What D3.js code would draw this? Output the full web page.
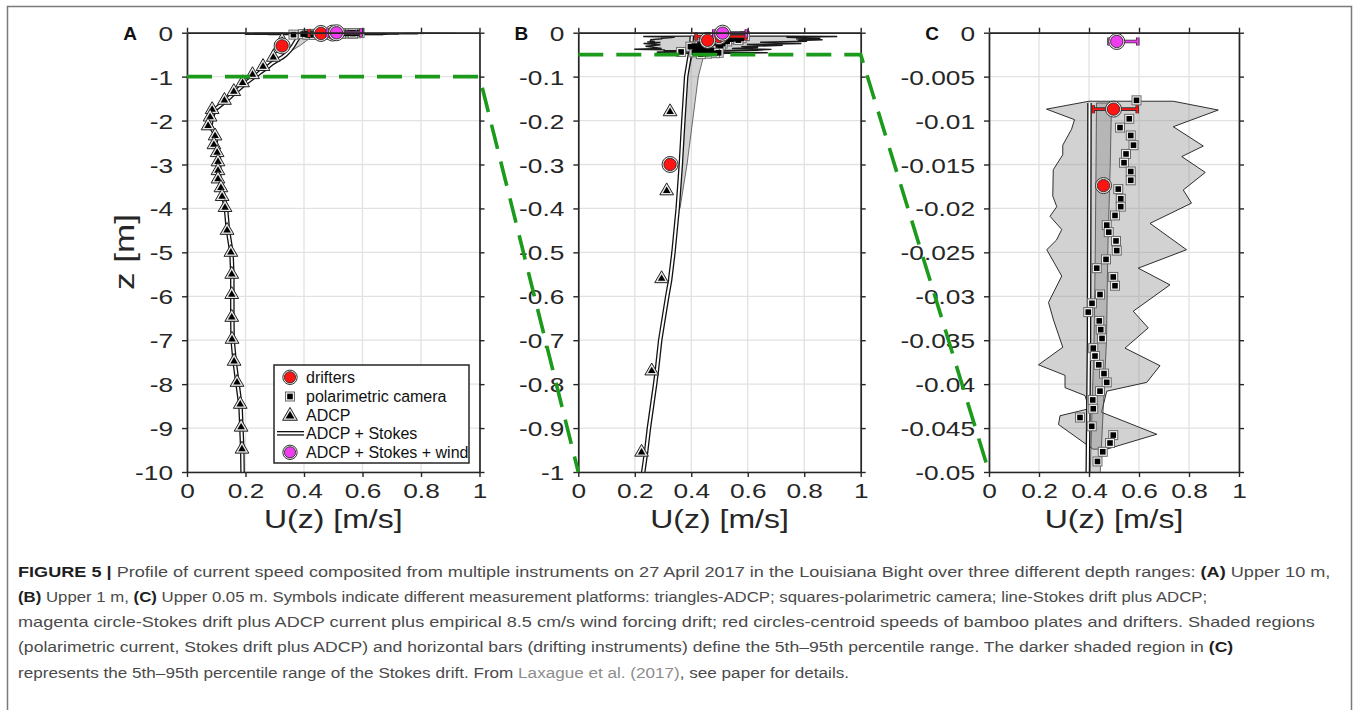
<!DOCTYPE html>
<html>
<head>
<meta charset="utf-8">
<script src="https://cdn.jsdelivr.net/npm/d3@7"></script>
<style>
  body { margin: 0; background: #fff; }
  svg { display: block; font-family: "Liberation Sans", Arial, sans-serif; }
</style>
</head>
<body>
<div id="chart"></div>
<script>
// ---- data ----
var xTicks  = [0, 0.2, 0.4, 0.6, 0.8, 1];
var zTicksA = [0, -1, -2, -3, -4, -5, -6, -7, -8, -9, -10];
var zTicksB = [0, -0.1, -0.2, -0.3, -0.4, -0.5, -0.6, -0.7, -0.8, -0.9, -1];
var zTicksC = [0, -0.005, -0.01, -0.015, -0.02, -0.025, -0.03, -0.035, -0.04, -0.045, -0.05];

// ADCP (triangles)
var adcpZ = [-0.18, -0.36, -0.56, -0.77, -0.955, -1.14, -1.34, -1.54, -1.75, -1.92, -2.12, -2.35, -2.55, -2.73,
             -2.94, -3.14, -3.33, -3.53, -3.73, -3.98, -4.5, -5.0, -5.5, -5.96, -6.48, -6.98, -7.48, -7.96, -8.46, -8.98, -9.48];
var adcpU = [0.325, 0.313, 0.295, 0.26, 0.224, 0.19, 0.16, 0.128, 0.086, 0.079, 0.072, 0.096, 0.092, 0.103,
             0.106, 0.106, 0.106, 0.116, 0.12, 0.13, 0.137, 0.15, 0.153, 0.153, 0.153, 0.154, 0.161, 0.171, 0.182, 0.185, 0.188];

// ADCP + Stokes (double line)
var stokesZ = [-0.008, -0.02, -0.035, -0.05, -0.1, -0.2, -0.3, -0.4, -0.5, -0.564, -0.6, -0.7, -0.77, -0.8, -0.9, -0.955, -1.0,
               -1.15, -1.34, -1.54, -1.75, -1.92, -2.12, -2.35, -2.55, -2.73, -2.94, -3.33, -3.53, -3.73, -3.98,
               -4.5, -5.0, -5.5, -6.0, -6.5, -7.0, -7.5, -8.0, -8.5, -9.0, -9.5, -10];
var stokesU = [0.402, 0.401, 0.4, 0.395, 0.382, 0.372, 0.363, 0.352, 0.337, 0.325, 0.315, 0.29, 0.278, 0.272, 0.25, 0.24, 0.23,
               0.2, 0.167, 0.135, 0.095, 0.085, 0.08, 0.1, 0.097, 0.107, 0.11, 0.11, 0.12, 0.124, 0.133,
               0.14, 0.152, 0.155, 0.155, 0.155, 0.156, 0.163, 0.173, 0.183, 0.186, 0.189, 0.19];

// Stokes drift 5th-95th percentile band
var bandZ  = [-0.008, -0.015, -0.025, -0.035, -0.05, -0.1, -0.2, -0.3, -0.4];
var bandLo = [0.43, 0.428, 0.425, 0.42, 0.405, 0.385, 0.372, 0.362, 0.35];
var bandHi = [0.49, 0.485, 0.475, 0.47, 0.445, 0.425, 0.405, 0.385, 0.36];

// polarimetric camera (squares)
var polZ = [-0.0077, -0.0098, -0.0108, -0.0117, -0.0128, -0.0138, -0.0148, -0.0158, -0.0168, -0.0178, -0.0189, -0.0198,
            -0.0208, -0.0219, -0.0227, -0.0237, -0.0248, -0.0258, -0.0268, -0.0278, -0.0288, -0.0298, -0.0308, -0.0318,
            -0.0328, -0.0338, -0.0348, -0.0359, -0.0368, -0.0378, -0.0388, -0.0398, -0.0408, -0.0418, -0.0428, -0.0438,
            -0.0448, -0.0458, -0.0467, -0.0477, -0.0488];
var polU = [0.59, 0.561, 0.524, 0.567, 0.578, 0.548, 0.54, 0.567, 0.567, 0.517, 0.527, 0.527,
            0.504, 0.471, 0.479, 0.508, 0.511, 0.468, 0.431, 0.497, 0.504, 0.444, 0.412, 0.397,
            0.441, 0.447, 0.452, 0.417, 0.424, 0.439, 0.46, 0.471, 0.444, 0.415, 0.417, 0.364,
            0.411, 0.497, 0.484, 0.455, 0.434];

// polarimetric 5th-95th percentile outline
var polLeftZ  = [-0.0078, -0.0087, -0.0099, -0.011, -0.0128, -0.0139, -0.0156, -0.0186, -0.0198, -0.0209, -0.0224, -0.0236,
                 -0.0247, -0.0277, -0.0307, -0.0327, -0.0358, -0.0378, -0.039, -0.0404, -0.0413, -0.0428, -0.0436, -0.0446, -0.0474];
var polLeftU  = [0.40, 0.23, 0.342, 0.33, 0.295, 0.295, 0.257, 0.255, 0.271, 0.244, 0.291, 0.27,
                 0.231, 0.291, 0.238, 0.258, 0.295, 0.198, 0.304, 0.304, 0.384, 0.40, 0.284, 0.278, 0.416];
var polRightZ = [-0.0078, -0.0088, -0.0107, -0.0129, -0.0141, -0.0159, -0.0179, -0.0194, -0.0217, -0.0247, -0.0268,
                 -0.0287, -0.0317, -0.0336, -0.0359, -0.0379, -0.0398, -0.0408, -0.0432, -0.0457, -0.0474];
var polRightU = [0.737, 0.917, 0.737, 0.857, 0.771, 0.865, 0.777, 0.81, 0.644, 0.79, 0.597,
                 0.724, 0.577, 0.637, 0.544, 0.684, 0.631, 0.471, 0.45, 0.671, 0.471];

// drifters (red circles) with 5th-95th bars
var drifterZ  = [-0.0087, -0.0174, -0.3];
var drifterU  = [0.498, 0.458, 0.325];
var drifterLo = [0.417, 0.45, 0.305];
var drifterHi = [0.593, 0.466, 0.335];

// ADCP + Stokes + wind (magenta)
var windZ  = [-0.001];
var windU  = [0.511];
var windLo = [0.48];
var windHi = [0.595];

// ---- chart ----
var W = 1360, H = 710;
var plotTop = 32.7, plotBottom = 472;
var axisColor = '#262626';
var stretch = 1.25;

var panels = [
  {key: 'A', left: 187,   right: 479.5, zmin: -10,   zTicks: zTicksA},
  {key: 'B', left: 578.3, right: 860.7, zmin: -1,    zTicks: zTicksB},
  {key: 'C', left: 989,   right: 1239,  zmin: -0.05, zTicks: zTicksC}
];

var svg = d3.select('#chart').append('svg')
    .attr('width', W)
    .attr('height', H);

// frame around figure
svg.append('rect')
    .attr('x', 7.5).attr('y', 6.5)
    .attr('width', 1344).attr('height', 760)
    .attr('fill', 'none')
    .attr('stroke', '#7a7a7a')
    .attr('stroke-width', 1.5);

function fmtTick(v) {
    return v === 0 ? '0' : String(+v.toFixed(4));
}

function zipPts(zs, us) {
    return zs.map(function(z, i) { return {z: z, u: us[i]}; });
}

var adcp = zipPts(adcpZ, adcpU);
var stokes = zipPts(stokesZ, stokesU);
var band = bandZ.map(function(z, i) { return {z: z, lo: bandLo[i], hi: bandHi[i]}; });
var pol = zipPts(polZ, polU);
var polOutline = zipPts(polLeftZ, polLeftU).concat(zipPts(polRightZ, polRightU).reverse());
var drifters = drifterZ.map(function(z, i) { return {z: z, u: drifterU[i], lo: drifterLo[i], hi: drifterHi[i]}; });
var wind = windZ.map(function(z, i) { return {z: z, u: windU[i], lo: windLo[i], hi: windHi[i]}; });

var tri = d3.symbol().type(d3.symbolTriangle);

function drawPanel(p, idx) {
    var xs = d3.scaleLinear().domain([0, 1]).range([p.left, p.right]);
    var ys = d3.scaleLinear().domain([p.zmin, 0]).range([plotBottom, plotTop]);
    p.xs = xs; p.ys = ys;
    var inRange = function(d) { return d.z >= p.zmin && d.z <= 0; };

    // grid
    var grid = svg.append('g').attr('class', 'grid');
    grid.selectAll('line.gx').data(xTicks).enter().append('line')
        .attr('x1', function(d) { return xs(d); }).attr('x2', function(d) { return xs(d); })
        .attr('y1', plotTop).attr('y2', plotBottom)
        .attr('stroke', '#e2e2e2').attr('stroke-width', 1.3);
    grid.selectAll('line.gy').data(p.zTicks).enter().append('line')
        .attr('y1', function(d) { return ys(d); }).attr('y2', function(d) { return ys(d); })
        .attr('x1', p.left).attr('x2', p.right)
        .attr('stroke', '#e2e2e2').attr('stroke-width', 1.3);

    svg.append('clipPath').attr('id', 'clip' + idx)
        .append('rect')
        .attr('x', p.left).attr('y', plotTop)
        .attr('width', p.right - p.left).attr('height', plotBottom - plotTop);

    var g = svg.append('g').attr('clip-path', 'url(#clip' + idx + ')');

    // polarimetric percentile region
    var outline = d3.line().x(function(d) { return xs(d.u); }).y(function(d) { return ys(d.z); });
    g.append('path')
        .attr('d', outline(polOutline) + 'Z')
        .attr('fill', '#888').attr('fill-opacity', 0.38)
        .attr('stroke', '#1a1a1a').attr('stroke-width', idx === 1 ? 1.4 : 0.9);

    // Stokes percentile band
    var area = d3.area()
        .y(function(d) { return ys(d.z); })
        .x0(function(d) { return xs(d.lo); })
        .x1(function(d) { return xs(d.hi); });
    g.append('path')
        .attr('d', area(band))
        .attr('fill', '#888').attr('fill-opacity', 0.38)
        .attr('stroke', '#333').attr('stroke-width', 0.7);

    // ADCP + Stokes double line
    var ln = d3.line().x(function(d) { return xs(d.u); }).y(function(d) { return ys(d.z); });
    g.append('path').attr('d', ln(stokes)).attr('fill', 'none')
        .attr('stroke', '#111').attr('stroke-width', 4.6);
    g.append('path').attr('d', ln(stokes)).attr('fill', 'none')
        .attr('stroke', '#fff').attr('stroke-width', 2);

    var m = svg.append('g');

    // ADCP triangles
    var tg = m.selectAll('g.tri').data(adcp.filter(inRange)).enter().append('g')
        .attr('transform', function(d) { return 'translate(' + xs(d.u) + ',' + ys(d.z) + ')'; });
    tg.append('path').attr('d', tri.size(82)()).attr('fill', '#e6e6e6')
        .attr('stroke', '#222').attr('stroke-width', 1);
    tg.append('path').attr('d', tri.size(24)()).attr('fill', '#000');

    // polarimetric squares
    var sq = pol.filter(inRange);
    m.selectAll('rect.sqo').data(sq).enter().append('rect')
        .attr('x', function(d) { return xs(d.u) - 4.5; })
        .attr('y', function(d) { return ys(d.z) - 4.5; })
        .attr('width', 9).attr('height', 9)
        .attr('fill', '#f2f2f2').attr('stroke', '#6a6a6a').attr('stroke-width', 1);
    m.selectAll('rect.sqi').data(sq).enter().append('rect')
        .attr('x', function(d) { return xs(d.u) - 2.8; })
        .attr('y', function(d) { return ys(d.z) - 2.8; })
        .attr('width', 5.6).attr('height', 5.6)
        .attr('fill', '#000');

    // drifters and wind markers with bars
    function barPath(d) {
        var y = ys(d.z), a = xs(d.lo), b = xs(d.hi);
        return 'M' + a + ',' + y + 'H' + b + 'M' + a + ',' + (y - 4) + 'V' + (y + 4) +
               'M' + b + ',' + (y - 4) + 'V' + (y + 4);
    }
    function drawDots(data, color) {
        var dd = data.filter(inRange);
        m.selectAll(null).data(dd).enter().append('path').attr('d', barPath)
            .attr('fill', 'none').attr('stroke', '#333').attr('stroke-width', 3.6);
        m.selectAll(null).data(dd).enter().append('path').attr('d', barPath)
            .attr('fill', 'none').attr('stroke', color).attr('stroke-width', 1.8);
        var cg = m.selectAll(null).data(dd).enter().append('g')
            .attr('transform', function(d) { return 'translate(' + xs(d.u) + ',' + ys(d.z) + ')'; });
        cg.append('circle').attr('r', 8).attr('fill', '#ededed')
            .attr('stroke', '#333').attr('stroke-width', 1);
        cg.append('circle').attr('r', 6.2).attr('fill', color)
            .attr('stroke', '#222').attr('stroke-width', 0.8);
    }
    drawDots(drifters, '#ff1414');
    drawDots(wind, '#ee3cee');

    // axes (box with outward ticks)
    function styleAxis(a) {
        a.attr('font-family', null).attr('font-size', null);
        a.select('.domain').attr('stroke', axisColor).attr('stroke-width', 1.7);
        a.selectAll('.tick line').attr('stroke', axisColor).attr('stroke-width', 1.4);
        a.selectAll('.tick text').attr('fill', axisColor).style('font-size', '21px');
    }
    var ax = svg.append('g').attr('transform', 'translate(0,' + plotBottom + ')')
        .call(d3.axisBottom(xs).tickValues(xTicks).tickFormat(function(v) { return String(v); })
            .tickSizeInner(5).tickSizeOuter(0));
    styleAxis(ax);
    ax.selectAll('.tick text').attr('y', 0).attr('dy', null)
        .attr('transform', 'translate(0,26) scale(' + stretch + ',1)');

    var axt = svg.append('g').attr('transform', 'translate(0,' + plotTop + ')')
        .call(d3.axisTop(xs).tickValues(xTicks).tickFormat('').tickSizeInner(5).tickSizeOuter(0));
    styleAxis(axt);

    var ay = svg.append('g').attr('transform', 'translate(' + p.left + ',0)')
        .call(d3.axisLeft(ys).tickValues(p.zTicks).tickFormat(fmtTick).tickSizeInner(5).tickSizeOuter(0));
    styleAxis(ay);
    ay.selectAll('.tick text').attr('x', 0).attr('dy', '0.36em')
        .attr('transform', 'translate(-14,0) scale(' + stretch + ',1)');

    var ayr = svg.append('g').attr('transform', 'translate(' + p.right + ',0)')
        .call(d3.axisRight(ys).tickValues(p.zTicks).tickFormat('').tickSizeInner(5).tickSizeOuter(0));
    styleAxis(ayr);

    // x title
    svg.append('text')
        .attr('transform', 'translate(' + ((p.left + p.right) / 2) + ',528) scale(1.28,1)')
        .attr('text-anchor', 'middle')
        .attr('fill', axisColor)
        .style('font-size', '25px')
        .text('U(z) [m/s]');

    // panel letter
    svg.append('text')
        .attr('x', p.left - 57).attr('y', 40)
        .attr('text-anchor', 'middle')
        .attr('fill', '#111')
        .style('font-size', '19px').style('font-weight', 700)
        .text(p.key);
}

panels.forEach(drawPanel);

// y title on panel A
svg.append('text')
    .attr('transform', 'translate(134,252) rotate(-90) scale(1.3,1)')
    .attr('text-anchor', 'middle')
    .attr('fill', axisColor)
    .style('font-size', '27px')
    .text('z [m]');

// zoom connectors (green dashed)
function connector(a, b, z) {
    return 'M' + a.xs(0) + ',' + a.ys(z) + 'L' + a.xs(1) + ',' + a.ys(z) + 'L' + b.xs(0) + ',' + b.ys(b.zmin);
}
[[panels[0], panels[1], -1], [panels[1], panels[2], -0.05]].forEach(function(c) {
    svg.append('path')
        .attr('d', connector(c[0], c[1], c[2]))
        .attr('fill', 'none')
        .attr('stroke', '#1c9a1c')
        .attr('stroke-width', 3.6)
        .attr('stroke-dasharray', '25,13');
});

// legend in panel A
var lg = svg.append('g').attr('transform', 'translate(274,365)');
lg.append('rect').attr('width', 195).attr('height', 98)
    .attr('fill', '#fff').attr('stroke', axisColor).attr('stroke-width', 1.5);
var rows = [12.3, 31.5, 50, 68.3, 87.3];
var labels = ['drifters', 'polarimetric camera', 'ADCP', 'ADCP + Stokes', 'ADCP + Stokes + wind'];
lg.selectAll('text').data(labels).enter().append('text')
    .attr('x', 32).attr('y', function(d, i) { return rows[i]; })
    .attr('dy', '0.35em')
    .attr('fill', '#111')
    .style('font-size', '16px')
    .text(function(d) { return d; });
function lgDot(y, color) {
    lg.append('circle').attr('cx', 16).attr('cy', y).attr('r', 7.2).attr('fill', '#ededed')
        .attr('stroke', '#333').attr('stroke-width', 1);
    lg.append('circle').attr('cx', 16).attr('cy', y).attr('r', 5.6).attr('fill', color)
        .attr('stroke', '#222').attr('stroke-width', 0.8);
}
lgDot(rows[0], '#ff1414');
lg.append('rect').attr('x', 11.5).attr('y', rows[1] - 4.5).attr('width', 9).attr('height', 9)
    .attr('fill', '#f2f2f2').attr('stroke', '#6a6a6a');
lg.append('rect').attr('x', 13.2).attr('y', rows[1] - 2.8).attr('width', 5.6).attr('height', 5.6).attr('fill', '#000');
lg.append('path').attr('transform', 'translate(16,' + (rows[2] + 1) + ')').attr('d', tri.size(95)())
    .attr('fill', '#e6e6e6').attr('stroke', '#222');
lg.append('path').attr('transform', 'translate(16,' + (rows[2] + 1) + ')').attr('d', tri.size(34)()).attr('fill', '#000');
lg.append('line').attr('x1', 3).attr('x2', 30).attr('y1', rows[3]).attr('y2', rows[3])
    .attr('stroke', '#111').attr('stroke-width', 4.6);
lg.append('line').attr('x1', 3).attr('x2', 30).attr('y1', rows[3]).attr('y2', rows[3])
    .attr('stroke', '#fff').attr('stroke-width', 2);
lgDot(rows[4], '#ee3cee');

// caption
var captionLines = [
    [['b', 'FIGURE 5 | '], ['n', 'Profile of current speed composited from multiple instruments on 27 April 2017 in the Louisiana Bight over three different depth ranges: '], ['b', '(A)'], ['n', ' Upper 10 m,']],
    [['b', '(B)'], ['n', ' Upper 1 m, '], ['b', '(C)'], ['n', ' Upper 0.05 m. Symbols indicate different measurement platforms: triangles-ADCP; squares-polarimetric camera; line-Stokes drift plus ADCP;']],
    [['n', 'magenta circle-Stokes drift plus ADCP current plus empirical 8.5 cm/s wind forcing drift; red circles-centroid speeds of bamboo plates and drifters. Shaded regions']],
    [['n', '(polarimetric current, Stokes drift plus ADCP) and horizontal bars (drifting instruments) define the 5th\u201395th percentile range. The darker shaded region in '], ['b', '(C)']],
    [['n', 'represents the 5th\u201395th percentile range of the Stokes drift. From '], ['l', 'Laxague et al. (2017)'], ['n', ', see paper for details.']]
];
// right end of each caption line in the figure
var captionEnds = [1331, 1208, 1315, 1234, 850];
var capColors = {b: '#1e1e1e', n: '#4a4a4a', l: '#8c8c8c'};
captionLines.forEach(function(parts, i) {
    var t = svg.append('text').attr('x', 0).attr('y', 0).style('font-size', '15px');
    parts.forEach(function(pt) {
        t.append('tspan')
            .attr('fill', capColors[pt[0]])
            .style('font-weight', pt[0] === 'b' ? 700 : 400)
            .text(pt[1]);
    });
    var k = (captionEnds[i] - 18) / t.node().getComputedTextLength();
    t.attr('transform', 'translate(18,' + (576.5 + i * 25.3) + ') scale(' + k + ',1)');
});
</script>
</body>
</html>
